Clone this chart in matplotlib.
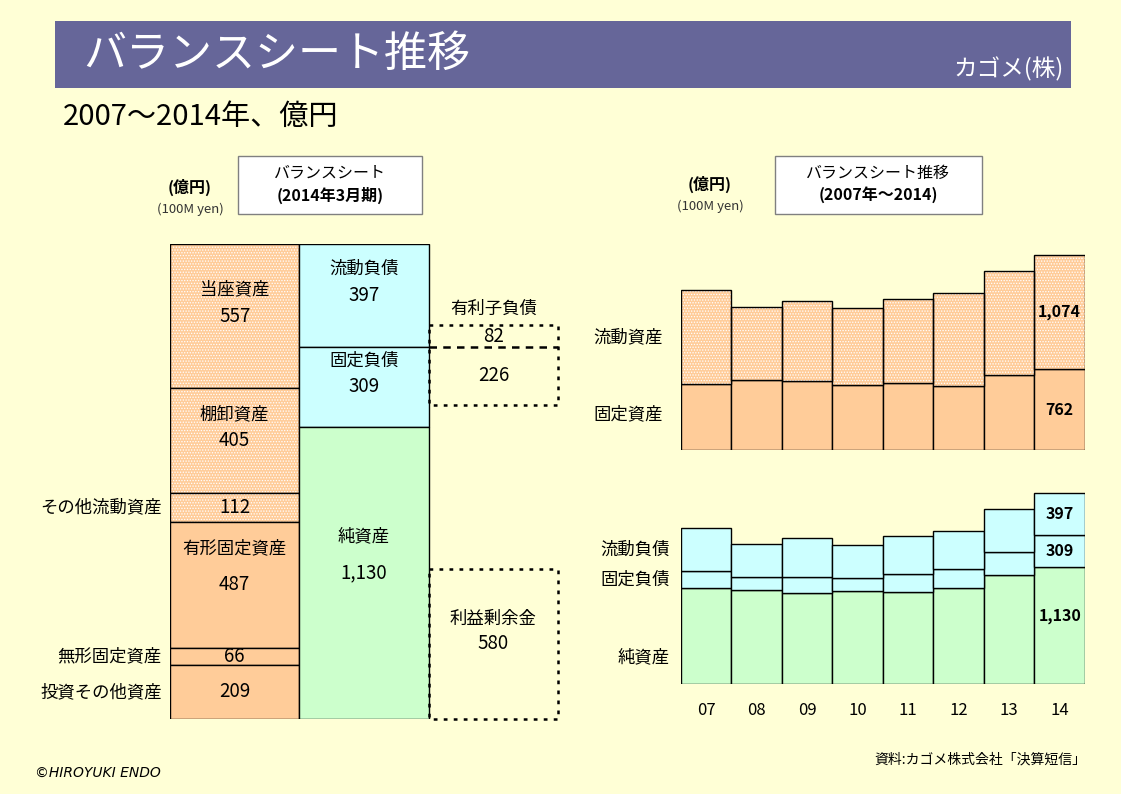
#Balance sheet chart (Kagome, 2007-2014)
import numpy as np
import matplotlib
matplotlib.use('Agg')
import matplotlib.pyplot as plt
from matplotlib.patches import Rectangle

plt.rcParams['font.family'] = ['Noto Sans CJK JP', 'DejaVu Sans']
plt.rcParams['hatch.linewidth'] = 0.6

#data: balance sheet 2014/3 (100M yen)
asset_names = ['当座資産', '棚卸資産', 'その他流動資産', '有形固定資産', '無形固定資産', '投資その他資産']
asset_vals = [557, 405, 112, 487, 66, 209]
asset_current = [True, True, True, False, False, False]
liab_names = ['流動負債', '固定負債', '純資産']
liab_vals = [397, 309, 1130]
debt_vals = [82, 226]      #interest bearing debt in current / fixed liabilities
retained = 580

#data: trend 2007-2014
years = ['07', '08', '09', '10', '11', '12', '13', '14']
cur_assets = [885, 687, 753, 725, 791, 876, 979, 1074]
fix_assets = [621, 659, 649, 612, 631, 602, 706, 762]
cur_liab = [418, 320, 375, 319, 366, 374, 413, 397]
fix_liab = [167, 125, 154, 125, 173, 183, 225, 309]
net_assets = [921, 901, 873, 893, 883, 921, 1047, 1130]

#colours
BG = '#FFFFD6'
ORANGE = '#FFCC99'
CYAN = '#CCFFFF'
GREEN = '#CCFFCC'
BAR = '#666699'
HATCH = '......'

W, H = 1121, 794
fig = plt.figure(figsize=(W/100, H/100), dpi=100)
fig.patch.set_facecolor(BG)

def px_axes(x0, y0, x1, y1):
    ax = fig.add_axes([x0/W, 1-y1/H, (x1-x0)/W, (y1-y0)/H])
    ax.patch.set_alpha(0)
    return ax

#background layer for titles
bg = fig.add_axes([0, 0, 1, 1])
bg.set_xlim(0, W)
bg.set_ylim(H, 0)
bg.axis('off')
bg.add_patch(Rectangle((55, 21), 1016, 67, fc=BAR, ec='none'))
bg.text(83, 55, 'バランスシート推移', color='white', fontsize=31, va='center', ha='left')
bg.text(1064, 69, 'カゴメ(株)', color='white', fontsize=17, va='center', ha='right')
bg.text(63, 117, '2007～2014年、億円', fontsize=21, va='center', ha='left')

#header boxes
bg.add_patch(Rectangle((238, 156), 184, 58, fc='white', ec='#808080', lw=1))
bg.text(330, 173, 'バランスシート', fontsize=11.5, ha='center', va='center')
bg.text(330, 195, '(2014年3月期)', fontsize=11.5, ha='center', va='center', fontweight='bold')
bg.text(190, 187, '(億円)', fontsize=11.5, ha='center', va='center', fontweight='bold')
bg.text(190, 209, '(100M yen)', fontsize=9.5, ha='center', va='center', color='#333333')

bg.add_patch(Rectangle((775, 156), 207, 58, fc='white', ec='#808080', lw=1))
bg.text(878, 173, 'バランスシート推移', fontsize=11.5, ha='center', va='center')
bg.text(878, 195, '(2007年～2014)', fontsize=11.5, ha='center', va='center', fontweight='bold')
bg.text(710, 184, '(億円)', fontsize=11.5, ha='center', va='center', fontweight='bold')
bg.text(710, 206, '(100M yen)', fontsize=9.5, ha='center', va='center', color='#333333')

#footer
bg.text(35, 773, '©HIROYUKI ENDO', fontsize=10, ha='left', va='center', style='italic',
        family='DejaVu Sans')
bg.text(1086, 760, '資料:カゴメ株式会社「決算短信」', fontsize=10, ha='right', va='center')

#---------------- balance sheet ----------------
total = sum(asset_vals)
bs = px_axes(170, 244, 558, 719)
bs.set_xlim(0, 3)
bs.set_ylim(total, 0)
bs.axis('off')

def hatched_bar(ax, x, h, b, w=1):
    ax.bar(x, h, bottom=b, width=w, color=ORANGE, edgecolor='white', hatch=HATCH, lw=0)
    ax.bar(x, h, bottom=b, width=w, fill=False, edgecolor='black', lw=1)

a_bot = np.concatenate([[0], np.cumsum(asset_vals)[:-1]])
for name, v, b, cur in zip(asset_names, asset_vals, a_bot, asset_current):
    if cur:
        hatched_bar(bs, 0.5, v, b)
    else:
        bs.bar(0.5, v, bottom=b, width=1, color=ORANGE, edgecolor='black', lw=1)
    mid = b + v/2
    bs.text(0.5, mid, f'{v:,}', ha='center', va='center', fontsize=13.5)
    if v > 300:
        off = 26 if name == '有形固定資産' else 19
        bs.annotate(name, (0.5, mid), xytext=(0, off), textcoords='offset points',
                    ha='center', va='center', fontsize=12.5)
    else:
        bs.annotate(name, (0, mid), xytext=(-6, 0), textcoords='offset points',
                    ha='right', va='center', fontsize=12.5, annotation_clip=False)

l_bot = np.concatenate([[0], np.cumsum(liab_vals)[:-1]])
for name, v, b, c in zip(liab_names, liab_vals, l_bot, [CYAN, CYAN, GREEN]):
    bs.bar(1.5, v, bottom=b, width=1, color=c, edgecolor='black', lw=1)
    mid = b + v/2
    bs.text(1.5, mid, f'{v:,}', ha='center', va='center', fontsize=13.5)
    off = 26 if name == '純資産' else 19
    bs.annotate(name, (1.5, mid), xytext=(0, off), textcoords='offset points',
                ha='center', va='center', fontsize=12.5)

#interest bearing debt box
dash = (0, (1.5, 2.5))
d_top = liab_vals[0] - debt_vals[0]
bs.bar(2.5, sum(debt_vals), bottom=d_top, width=1, fill=False, edgecolor='black',
       lw=1.8, ls=dash, clip_on=False)
bs.plot([2, 3], [liab_vals[0]]*2, color='black', lw=1.8, ls=(0, (3, 2.5)), clip_on=False)
bs.text(2.5, d_top + debt_vals[0]/2, f'{debt_vals[0]}', ha='center', va='center', fontsize=13.5)
bs.text(2.5, liab_vals[0] + debt_vals[1]/2, f'{debt_vals[1]}', ha='center', va='center', fontsize=13.5)
bs.annotate('有利子負債', (2.5, d_top), xytext=(0, 12), textcoords='offset points',
            ha='center', va='center', fontsize=12.5)

#retained earnings box
r_top = total - retained
bs.bar(2.5, retained, bottom=r_top, width=1, fill=False, edgecolor='black',
       lw=1.8, ls=dash, clip_on=False)
bs.text(2.5, r_top + retained/2, f'{retained}', ha='center', va='center', fontsize=13.5)
bs.annotate('利益剰余金', (2.5, r_top + retained/2), xytext=(0, 18), textcoords='offset points',
            ha='center', va='center', fontsize=12.5)

#---------------- trend: assets ----------------
x = np.arange(len(years))
ta = px_axes(680.7, 250, 1085, 450)
ta.set_xlim(-0.5, len(years)-0.5)
ta.set_ylim(0, 1884)
ta.bar(x, fix_assets, width=1, color=ORANGE, edgecolor='black', lw=1)
ta.bar(x, cur_assets, bottom=fix_assets, width=1, color=ORANGE, edgecolor='white',
       hatch=HATCH, lw=0)
ta.bar(x, cur_assets, bottom=fix_assets, width=1, fill=False, edgecolor='black', lw=1)
for s in ta.spines.values():
    s.set_visible(False)
ta.set_xticks([])
ta.set_yticks([])
ta.annotate('流動資産', (-0.5, fix_assets[0] + cur_assets[0]/2), xytext=(-13, 0),
            textcoords='offset points', ha='right', va='center', fontsize=12.5, annotation_clip=False)
ta.annotate('固定資産', (-0.5, fix_assets[0]/2 + 30), xytext=(-13, 0),
            textcoords='offset points', ha='right', va='center', fontsize=12.5, annotation_clip=False)
ta.text(x[-1], fix_assets[-1] + cur_assets[-1]/2, f'{cur_assets[-1]:,}', ha='center',
        va='center', fontsize=11.5, fontweight='bold')
ta.text(x[-1], fix_assets[-1]/2, f'{fix_assets[-1]:,}', ha='center', va='center',
        fontsize=11.5, fontweight='bold')

#---------------- trend: liabilities ----------------
tl = px_axes(680.7, 490, 1085, 684)
tl.set_xlim(-0.5, len(years)-0.5)
tl.set_ylim(0, 1868)
b2 = np.array(net_assets) + np.array(fix_liab)
tl.bar(x, net_assets, width=1, color=GREEN, edgecolor='black', lw=1)
tl.bar(x, fix_liab, bottom=net_assets, width=1, color=CYAN, edgecolor='black', lw=1)
tl.bar(x, cur_liab, bottom=b2, width=1, color=CYAN, edgecolor='black', lw=1)
for s in tl.spines.values():
    s.set_visible(False)
tl.set_yticks([])
tl.set_xticks(x, years)
tl.tick_params(axis='x', length=0, pad=13, labelsize=12)
tl.annotate('流動負債', (-0.5, b2[0] + cur_liab[0]/2), xytext=(-8, 0),
            textcoords='offset points', ha='right', va='center', fontsize=12.5, annotation_clip=False)
tl.annotate('固定負債', (-0.5, net_assets[0] + fix_liab[0]/2), xytext=(-8, 0),
            textcoords='offset points', ha='right', va='center', fontsize=12.5, annotation_clip=False)
tl.annotate('純資産', (-0.5, net_assets[0]/2 - 200), xytext=(-8, 0),
            textcoords='offset points', ha='right', va='center', fontsize=12.5, annotation_clip=False)
tl.text(x[-1], b2[-1] + cur_liab[-1]/2, f'{cur_liab[-1]:,}', ha='center', va='center',
        fontsize=11.5, fontweight='bold')
tl.text(x[-1], net_assets[-1] + fix_liab[-1]/2, f'{fix_liab[-1]:,}', ha='center', va='center',
        fontsize=11.5, fontweight='bold')
tl.text(x[-1], net_assets[-1]/2 + 90, f'{net_assets[-1]:,}', ha='center', va='center',
        fontsize=11.5, fontweight='bold')

plt.savefig('out.png', dpi=100, facecolor=BG)
